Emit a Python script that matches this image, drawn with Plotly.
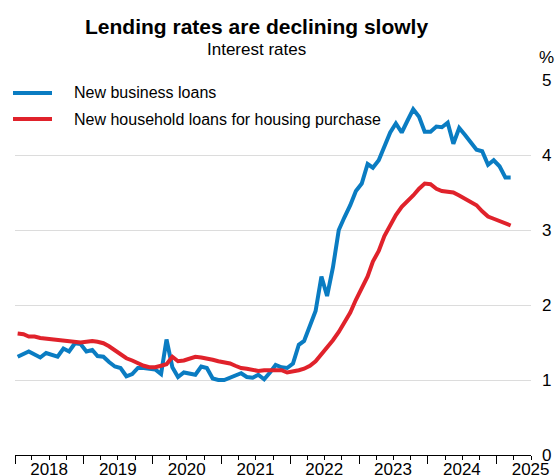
import plotly.graph_objects as go
import pandas as pd

# Monthly data, Jan 2018 – Mar 2025 (plotted mid-month)
dates = [d.strftime("%Y-%m-%d") for d in pd.date_range("2018-01-01", periods=87, freq="MS") + pd.Timedelta(days=14)]

business = [
    1.31, 1.34, 1.38, 1.34, 1.30, 1.36, 1.33, 1.31, 1.42, 1.38, 1.49, 1.48,   # 2018
    1.38, 1.40, 1.32, 1.31, 1.24, 1.18, 1.16, 1.05, 1.08, 1.16, 1.16, 1.15,   # 2019
    1.14, 1.08, 1.54, 1.17, 1.04, 1.10, 1.09, 1.07, 1.18, 1.16, 1.02, 1.00,   # 2020
    1.00, 1.03, 1.06, 1.09, 1.04, 1.03, 1.07, 1.01, 1.10, 1.20, 1.17, 1.16,   # 2021
    1.22, 1.47, 1.52, 1.72, 1.92, 2.38, 2.12, 2.50, 3.00, 3.17, 3.33, 3.52,   # 2022
    3.62, 3.88, 3.83, 3.93, 4.13, 4.30, 4.42, 4.30, 4.46, 4.61, 4.51, 4.31,   # 2023
    4.31, 4.38, 4.37, 4.43, 4.15, 4.36, 4.27, 4.17, 4.07, 4.05, 3.87, 3.93,   # 2024
    3.85, 3.70, 3.70,                                                         # 2025
]
housing = [
    1.62, 1.61, 1.58, 1.58, 1.56, 1.55, 1.54, 1.53, 1.52, 1.51, 1.50, 1.50,   # 2018
    1.51, 1.52, 1.51, 1.49, 1.45, 1.40, 1.34, 1.29, 1.26, 1.22, 1.19, 1.17,   # 2019
    1.17, 1.19, 1.21, 1.31, 1.25, 1.26, 1.29, 1.31, 1.30, 1.29, 1.27, 1.25,   # 2020
    1.24, 1.22, 1.19, 1.16, 1.15, 1.13, 1.12, 1.13, 1.13, 1.12, 1.13, 1.10,   # 2021
    1.11, 1.13, 1.15, 1.19, 1.25, 1.34, 1.44, 1.53, 1.64, 1.76, 1.90, 2.07,   # 2022
    2.22, 2.38, 2.58, 2.72, 2.92, 3.07, 3.20, 3.31, 3.38, 3.46, 3.55, 3.62,   # 2023
    3.61, 3.55, 3.52, 3.51, 3.50, 3.46, 3.42, 3.38, 3.33, 3.25, 3.18, 3.15,   # 2024
    3.12, 3.10, 3.06,                                                         # 2025
]

series_names = ["New business loans", "New household loans for housing purchase"]
series_colors = ["#0a7cc2", "#e0222b"]

year_labels = ["2018", "2019", "2020", "2021", "2022", "2023", "2024", "2025"]
year_label_pos = [f"{y}-07-01" for y in year_labels]
year_starts = [f"{y}-01-01" for y in range(2018, 2026)]
y_ticks = [0, 1, 2, 3, 4, 5]

title = "Lending rates are declining slowly"
subtitle = "Interest rates"

FONT = "Arial, Liberation Sans, sans-serif"
x_range = ["2018-01-01", "2025-07-01"]
x_range_labels = ["2018-01-01", "2025-07-03"]

fig = go.Figure()
for name, vals, col in zip(series_names, [business, housing], series_colors):
    fig.add_trace(go.Scatter(
        x=dates, y=vals, mode="lines", name=name, showlegend=False,
        line=dict(color=col, width=4),
    ))

# invisible trace to activate the label axis
fig.add_trace(go.Scatter(x=[x_range[0]], y=[None], xaxis="x2", showlegend=False,
                         hoverinfo="skip", mode="lines"))

W, H = 559, 476
ml, mr, mt, mb = 15, 28, 80, 21
pw, ph = W - ml - mr, H - mt - mb

def px(xp):
    return (xp - ml) / pw

def py(yp):
    return (H - mb - yp) / ph

# Legend key (drawn as shapes + text in paper coordinates)
shapes = []
annotations = []
legend_rows_y = [93, 119]
for name, col, yy in zip(series_names, series_colors, legend_rows_y):
    shapes.append(dict(type="line", xref="paper", yref="paper",
                       x0=px(13), x1=px(52), y0=py(yy), y1=py(yy),
                       line=dict(color=col, width=4)))
    annotations.append(dict(text=name, xref="paper", yref="paper", x=px(72), y=py(yy),
                            xanchor="left", yanchor="middle", showarrow=False,
                            font=dict(size=16, family=FONT, color="black")))

annotations += [
    dict(text=f"<b>{title}</b>", xref="paper", yref="paper", x=px(256), y=py(26),
         xanchor="center", yanchor="middle", showarrow=False,
         font=dict(size=21, family=FONT, color="black")),
    dict(text=subtitle, xref="paper", yref="paper", x=px(256), y=py(49),
         xanchor="center", yanchor="middle", showarrow=False,
         font=dict(size=17, family=FONT, color="black")),
    dict(text="%", xref="paper", yref="paper", x=px(546), y=py(57),
         xanchor="center", yanchor="middle", showarrow=False,
         font=dict(size=17, family=FONT, color="black")),
]

fig.update_layout(
    width=W, height=H,
    margin=dict(l=ml, r=mr, t=mt, b=mb, pad=0, autoexpand=False),
    paper_bgcolor="white", plot_bgcolor="white",
    font=dict(family=FONT, color="black", size=17),
    showlegend=False,
    xaxis=dict(
        type="date", range=x_range, automargin=False,
        showgrid=False, zeroline=False,
        showline=True, linecolor="black", linewidth=1,
        tickmode="array", tickvals=year_starts, ticktext=[""] * len(year_starts),
        ticks="outside", ticklen=8, tickwidth=1, tickcolor="black",
        minor=dict(dtick="M3", tick0="2018-01-01", ticks="outside", ticklen=4,
                   tickwidth=1, tickcolor="black", showgrid=False),
    ),
    xaxis2=dict(
        type="date", range=x_range_labels, overlaying="x", side="bottom", anchor="y",
        automargin=False,
        showgrid=False, zeroline=False, showline=False,
        tickmode="array", tickvals=year_label_pos, ticktext=year_labels,
        ticks="", ticklen=0, tickfont=dict(size=17, family=FONT), ticklabelstandoff=2,
    ),
    yaxis=dict(
        range=[0, 5], side="right", automargin=False,
        tickmode="array", tickvals=y_ticks, ticktext=[str(v) for v in y_ticks],
        showgrid=True, gridcolor="#dcdcdc", gridwidth=1,
        zeroline=False, showline=False, ticks="",
        tickfont=dict(size=17, family=FONT), ticklabelstandoff=10,
    ),
    shapes=shapes,
    annotations=annotations,
)

fig.write_html("out.html", config={"displayModeBar": False},
               post_script="document.body.style.margin='0';document.body.style.overflow='hidden';")
